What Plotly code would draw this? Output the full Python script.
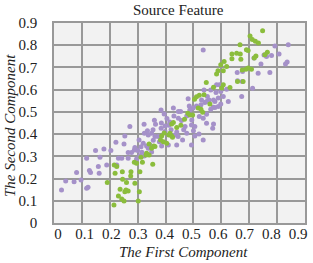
import plotly.graph_objects as go

# Green series (x, y)
green_x = [0.748, 0.703, 0.711, 0.722, 0.733, 0.667, 0.690, 0.696, 0.765, 0.756,
           0.724, 0.655, 0.668, 0.638, 0.638, 0.670, 0.718, 0.610, 0.598, 0.619,
           0.588, 0.607, 0.583, 0.696, 0.688, 0.708, 0.675, 0.658, 0.678, 0.546,
           0.607, 0.572, 0.601, 0.631, 0.521, 0.511, 0.538, 0.504, 0.559, 0.517,
           0.527, 0.487, 0.480, 0.497, 0.428, 0.422, 0.533, 0.468,
           0.215, 0.243, 0.251, 0.231, 0.237, 0.258, 0.266, 0.254, 0.302, 0.306,
           0.191, 0.260, 0.290, 0.275, 0.246, 0.219, 0.245, 0.276, 0.308, 0.216,
           0.225, 0.288, 0.296, 0.317, 0.354, 0.341, 0.332, 0.358, 0.350, 0.341,
           0.412, 0.422, 0.425, 0.386, 0.392, 0.404, 0.416,
           0.362, 0.382, 0.440, 0.455, 0.395, 0.312, 0.330]
green_y = [0.865, 0.842, 0.826, 0.818, 0.810, 0.802, 0.780, 0.776, 0.768, 0.757,
           0.752, 0.764, 0.760, 0.761, 0.739, 0.737, 0.742, 0.727, 0.712, 0.704,
           0.685, 0.685, 0.671, 0.697, 0.692, 0.692, 0.689, 0.637, 0.637, 0.632,
           0.622, 0.611, 0.607, 0.610, 0.575, 0.568, 0.577, 0.557, 0.536, 0.518,
           0.512, 0.486, 0.494, 0.486, 0.452, 0.446, 0.498, 0.467,
           0.081, 0.108, 0.099, 0.122, 0.152, 0.149, 0.144, 0.141, 0.099, 0.141,
           0.182, 0.182, 0.179, 0.212, 0.197, 0.224, 0.231, 0.231, 0.231, 0.261,
           0.254, 0.273, 0.269, 0.273, 0.264, 0.306, 0.314, 0.347, 0.336, 0.356,
           0.396, 0.392, 0.386, 0.392, 0.366, 0.359, 0.404,
           0.344, 0.374, 0.430, 0.440, 0.405, 0.296, 0.306]

# Purple series (x, y)
purple_x = [0.535, 0.792, 0.840, 0.753, 0.762, 0.780, 0.807, 0.836, 0.830, 0.742,
            0.717, 0.774, 0.732, 0.657, 0.676, 0.658, 0.675, 0.712, 0.673, 0.593,
            0.581, 0.598, 0.619, 0.607, 0.589, 0.562, 0.577, 0.571, 0.556, 0.541,
            0.529, 0.527, 0.499, 0.487, 0.481, 0.494, 0.428, 0.446, 0.538, 0.583,
            0.601, 0.625, 0.598, 0.589, 0.577, 0.562, 0.550, 0.547, 0.572, 0.511,
            0.485, 0.454, 0.430, 0.446, 0.457, 0.476, 0.521, 0.535, 0.547, 0.547,
            0.572, 0.569, 0.505, 0.493, 0.470, 0.384, 0.272, 0.323, 0.364, 0.384,
            0.398, 0.412,
            0.027, 0.042, 0.072, 0.097, 0.081, 0.127, 0.131, 0.117, 0.122, 0.162,
            0.159, 0.189, 0.117, 0.149, 0.165, 0.179, 0.204, 0.222, 0.254, 0.251,
            0.231, 0.266, 0.278, 0.288, 0.300, 0.266, 0.296, 0.308, 0.323, 0.225,
            0.243, 0.305, 0.320, 0.332, 0.344, 0.324, 0.338, 0.350, 0.362, 0.374,
            0.378, 0.386, 0.410, 0.440, 0.461, 0.445, 0.493, 0.535, 0.505, 0.476,
            0.338, 0.356, 0.312, 0.290, 0.315, 0.350, 0.398, 0.420, 0.355, 0.335,
            0.385, 0.405, 0.360, 0.395, 0.415, 0.440, 0.465, 0.430, 0.500, 0.520]
purple_y = [0.779, 0.797, 0.802, 0.756, 0.749, 0.754, 0.760, 0.724, 0.716, 0.716,
            0.742, 0.677, 0.674, 0.677, 0.682, 0.640, 0.637, 0.606, 0.569, 0.622,
            0.587, 0.592, 0.602, 0.569, 0.562, 0.599, 0.547, 0.521, 0.554, 0.542,
            0.554, 0.532, 0.517, 0.509, 0.559, 0.464, 0.517, 0.502, 0.599, 0.622,
            0.614, 0.547, 0.536, 0.524, 0.520, 0.512, 0.569, 0.547, 0.554, 0.527,
            0.527, 0.502, 0.482, 0.471, 0.461, 0.482, 0.479, 0.471, 0.489, 0.449,
            0.446, 0.426, 0.434, 0.441, 0.434, 0.509, 0.434, 0.444, 0.444, 0.426,
            0.437, 0.440,
            0.149, 0.189, 0.186, 0.194, 0.227, 0.236, 0.227, 0.156, 0.161, 0.224,
            0.254, 0.261, 0.291, 0.326, 0.296, 0.333, 0.326, 0.363, 0.392, 0.356,
            0.291, 0.291, 0.317, 0.329, 0.326, 0.317, 0.288, 0.303, 0.302, 0.261,
            0.291, 0.374, 0.359, 0.347, 0.351, 0.404, 0.396, 0.404, 0.389, 0.389,
            0.366, 0.347, 0.351, 0.351, 0.374, 0.389, 0.351, 0.374, 0.392, 0.404,
            0.336, 0.372, 0.343, 0.340, 0.318, 0.320, 0.412, 0.420, 0.420, 0.415,
            0.450, 0.470, 0.462, 0.490, 0.455, 0.410, 0.420, 0.395, 0.415, 0.400]

tick_vals = [0, 0.1, 0.2, 0.3, 0.4, 0.5, 0.6, 0.7, 0.8, 0.9]
tick_text = ["0", "0.1", "0.2", "0.3", "0.4", "0.5", "0.6", "0.7", "0.8", "0.9"]

FONT = "Liberation Serif"
TXT = "#222222"
GRID = "#999999"

fig = go.Figure()
fig.add_trace(go.Scatter(x=purple_x, y=purple_y, mode="markers",
                         marker=dict(color="#a591c9", size=5, line=dict(width=0)),
                         showlegend=False, hoverinfo="skip"))
fig.add_trace(go.Scatter(x=green_x, y=green_y, mode="markers",
                         marker=dict(color="#8bbd3c", size=5, line=dict(width=0)),
                         showlegend=False, hoverinfo="skip"))
# empty trace that activates the label axis (x2)
fig.add_trace(go.Scatter(x=[], y=[], xaxis="x2", yaxis="y", showlegend=False))

fig.update_layout(
    width=313, height=263,
    margin=dict(l=54, r=8, t=23, b=40, autoexpand=False),
    paper_bgcolor="white", plot_bgcolor="#f2f2f2",
    font=dict(family=FONT, color=TXT),
    xaxis=dict(range=[0, 0.9], tickvals=tick_vals, showticklabels=False,
               showgrid=True, gridcolor=GRID, gridwidth=1.5, zeroline=False,
               showline=True, linecolor=GRID, linewidth=1.5, mirror=True, ticks="",
               automargin=False),
    # label axis: the original chart's tick labels are slightly compressed
    xaxis2=dict(overlaying="x", anchor="y", side="bottom", range=[-0.015, 0.926],
                tickvals=tick_vals, ticktext=tick_text, showgrid=False,
                zeroline=False, showline=False, ticks="", automargin=False,
                tickfont=dict(family=FONT, size=15, color=TXT)),
    yaxis=dict(range=[0, 0.9], tickvals=tick_vals, ticktext=tick_text,
               showgrid=True, gridcolor=GRID, gridwidth=1.5, zeroline=False,
               showline=True, linecolor=GRID, linewidth=1.5, mirror=True, ticks="",
               ticklabelstandoff=12, automargin=False,
               tickfont=dict(family=FONT, size=15, color=TXT)),
    annotations=[
        dict(text="Source Feature", xref="paper", yref="paper", x=0.498, y=1.065,
             xanchor="center", yanchor="middle", showarrow=False,
             font=dict(family=FONT, size=15, color=TXT)),
        dict(text="<i>The First Component</i>", xref="paper", yref="paper",
             x=0.514, y=-0.145, xanchor="center", yanchor="middle", showarrow=False,
             font=dict(family=FONT, size=15, color=TXT)),
        dict(text="<i>The Second Component</i>", xref="paper", yref="paper",
             x=-0.175, y=0.485, xanchor="center", yanchor="middle", showarrow=False,
             textangle=-90, font=dict(family=FONT, size=15, color=TXT)),
    ],
)

fig.write_html("out.html", config={"displayModeBar": False},
               post_script="document.body.style.margin='0';document.body.style.overflow='hidden';")
